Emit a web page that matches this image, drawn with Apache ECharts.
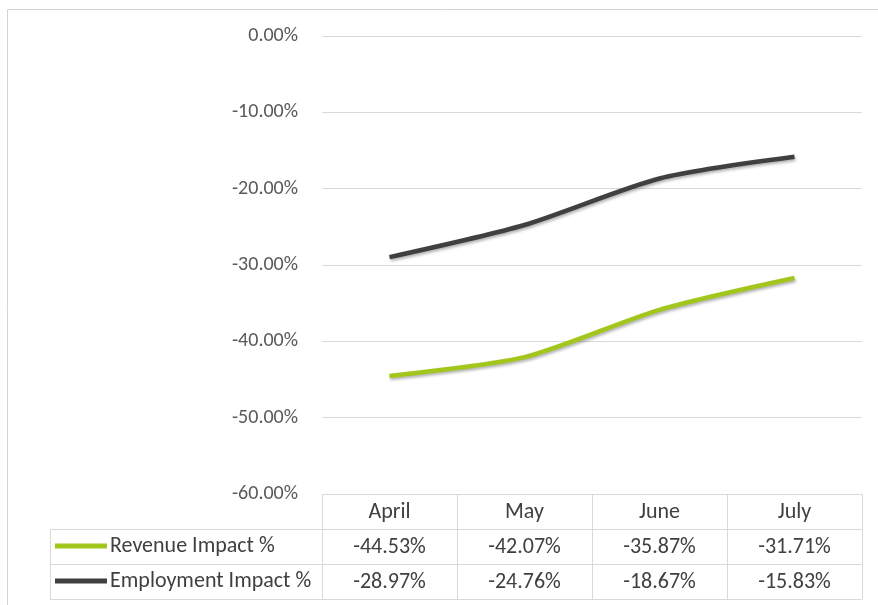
<!DOCTYPE html>
<html>
<head>
<meta charset="utf-8">
<script src="https://cdn.jsdelivr.net/npm/echarts@6/dist/echarts.min.js"></script>
<style>
html,body{margin:0;padding:0;background:#fff;}
#chart{width:878px;height:605px;}
</style>
</head>
<body>
<div id="chart"></div>
<script>
const months = ['April', 'May', 'June', 'July'];
const revenue = [-44.53, -42.07, -35.87, -31.71];
const employment = [-28.97, -24.76, -18.67, -15.83];
const seriesNames = ['Revenue Impact %', 'Employment Impact %'];
const yMin = -60, yMax = 0, yStep = 10;

const FONT = 'Carlito, Calibri, "Liberation Sans Narrow", sans-serif';
const GREEN = '#a2c61c';
const DARK = '#404040';
const BORDER = '#d9d9d9';
const TXT = '#404040';
const TSIZE = 22;
const fmt = v => v.toFixed(2) + '%';

const chart = echarts.init(document.getElementById('chart'), null, {renderer: 'canvas'});

function rowAxis(offset, values) {
  return {
    type: 'category', data: months, gridIndex: 0, position: 'bottom', offset: offset,
    boundaryGap: true,
    axisLine: {show: true, onZero: false, lineStyle: {color: BORDER, width: 1}},
    axisTick: {show: false},
    axisLabel: {show: !!values, margin: 7, fontSize: TSIZE, color: TXT, fontFamily: FONT,
      formatter: (v, i) => values ? fmt(values[i]) : ''}
  };
}

const option = {
  animation: false,
  backgroundColor: '#fff',
  grid: {left: 322, right: 16, top: 36, bottom: 111, containLabel: false},
  xAxis: [
    {
      type: 'category', data: months, gridIndex: 0, position: 'bottom', boundaryGap: true,
      axisLine: {show: true, onZero: false, lineStyle: {color: BORDER, width: 1}},
      axisTick: {show: true, inside: false, length: 105, lineStyle: {color: BORDER, width: 1}},
      axisLabel: {margin: 7, fontSize: TSIZE, color: TXT, fontFamily: FONT},
      splitLine: {show: false}
    },
    rowAxis(35, revenue),
    rowAxis(70, employment),
    rowAxis(105, null)
  ],
  yAxis: {
    type: 'value', min: yMin, max: yMax, interval: yStep,
    axisLine: {show: false}, axisTick: {show: false},
    splitLine: {lineStyle: {color: BORDER, width: 1}},
    axisLabel: {margin: 24, fontSize: 20, color: '#595959', fontFamily: FONT,
      formatter: v => fmt(v)}
  },
  legend: [
    {data: [seriesNames[0]], left: 55, top: 535, icon: 'rect', itemWidth: 52, itemHeight: 5,
      selectedMode: false, padding: 0, textStyle: {fontSize: TSIZE, color: TXT, fontFamily: FONT, padding: [0, 0, 0, -2]}},
    {data: [seriesNames[1]], left: 55, top: 570, icon: 'rect', itemWidth: 52, itemHeight: 5,
      selectedMode: false, padding: 0, textStyle: {fontSize: TSIZE, color: TXT, fontFamily: FONT, padding: [0, 0, 0, -2]}}
  ],
  graphic: [
    {type: 'rect', shape: {x: 7.5, y: 9.5, width: 900, height: 700}, style: {fill: 'none', stroke: '#d4d4d4', lineWidth: 1}, silent: true, z: -1},
    {type: 'line', shape: {x1: 50, y1: 529.5, x2: 322, y2: 529.5}, style: {stroke: BORDER, lineWidth: 1}, silent: true},
    {type: 'line', shape: {x1: 50, y1: 564.5, x2: 322, y2: 564.5}, style: {stroke: BORDER, lineWidth: 1}, silent: true},
    {type: 'line', shape: {x1: 50, y1: 599.5, x2: 322, y2: 599.5}, style: {stroke: BORDER, lineWidth: 1}, silent: true},
    {type: 'line', shape: {x1: 50.5, y1: 529.5, x2: 50.5, y2: 599.5}, style: {stroke: BORDER, lineWidth: 1}, silent: true}
  ],
  series: [
    {
      name: seriesNames[0], type: 'line', data: revenue, xAxisIndex: 0, smooth: 0.25,
      symbol: 'none', color: GREEN,
      lineStyle: {width: 4.5, color: GREEN, shadowColor: 'rgba(0,0,0,0.3)', shadowBlur: 3, shadowOffsetX: 1, shadowOffsetY: 2}
    },
    {
      name: seriesNames[1], type: 'line', data: employment, xAxisIndex: 0, smooth: 0.25,
      symbol: 'none', color: DARK,
      lineStyle: {width: 4.5, color: DARK, shadowColor: 'rgba(0,0,0,0.3)', shadowBlur: 3, shadowOffsetX: 1, shadowOffsetY: 2}
    }
  ]
};
chart.setOption(option);
</script>
</body>
</html>
